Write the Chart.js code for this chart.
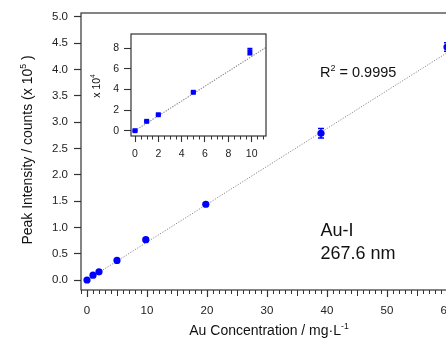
<!DOCTYPE html>
<html><head><meta charset="utf-8">
<script src="https://cdn.jsdelivr.net/npm/chart.js@4/dist/chart.umd.min.js"></script>
<style>
html,body{margin:0;padding:0;background:#fff;overflow:hidden;}
#wrap{position:relative;width:446px;height:340px;overflow:hidden;background:#fff;}
canvas{position:absolute;left:0;top:0;}
</style></head><body>
<div id="wrap"><canvas id="main" width="480" height="340"></canvas><canvas id="inset" width="480" height="340"></canvas></div>
<script>
// ---- data ----
const concentrations = [0, 1, 2, 5, 9.8, 19.8, 39, 60];          // mg/L
const intensities = [0, 0.092, 0.155, 0.373, 0.766, 1.44, 2.79, 4.43]; // x10^5 counts
const intensityErrors = [0.004, 0.004, 0.004, 0.006, 0.03, 0.025, 0.09, 0.08];
const fitX = [0, 63];
const fitY = [0, 4.536];

const insetConcentrations = [0, 1, 2, 5, 9.85];
const insetIntensities = [0, 0.91, 1.55, 3.73, 7.67];  // x10^4 counts
const insetErrors = [0.05, 0.05, 0.05, 0.08, 0.3];
const insetFitX = [0, 11.23];
const insetFitY = [0, 8.09];

const xTickValues = [0, 10, 20, 30, 40, 50, 60];
const yTickValues = [0, 0.5, 1, 1.5, 2, 2.5, 3, 3.5, 4, 4.5, 5];
const insetXTickValues = [0, 2, 4, 6, 8, 10];
const insetYTickValues = [0, 2, 4, 6, 8];

const FONT = "'Liberation Sans', Arial, Helvetica, sans-serif";
const AXIS = '#333';
const BLUE = '#0000ff';

function pts(xs, ys){ return xs.map((v,i)=>({x:v, y:ys[i]})); }

const errorBarPlugin = {
  id: 'errorBars',
  afterDatasetsDraw(chart, args, opts){
    const {ctx, scales:{x, y}} = chart;
    const ds = chart.data.datasets[opts.datasetIndex];
    ctx.save();
    ctx.strokeStyle = BLUE; ctx.lineWidth = 1.5;
    ds.data.forEach((p, i) => {
      const e = opts.errors[i];
      const px = x.getPixelForValue(p.x);
      const y1 = y.getPixelForValue(p.y - e), y2 = y.getPixelForValue(p.y + e);
      ctx.beginPath();
      ctx.moveTo(px, y1); ctx.lineTo(px, y2);
      ctx.moveTo(px - opts.cap, y1); ctx.lineTo(px + opts.cap, y1);
      ctx.moveTo(px - opts.cap, y2); ctx.lineTo(px + opts.cap, y2);
      ctx.stroke();
    });
    ctx.restore();
  }
};

function drawParts(ctx, parts, size, x, y, align){
  const widths = parts.map(([t, sup]) => { ctx.font = (sup ? size*0.62 : size) + 'px ' + FONT; return ctx.measureText(t).width; });
  const total = widths.reduce((a,b)=>a+b, 0);
  let cx = align === 'center' ? x - total/2 : x;
  parts.forEach(([t, sup], i) => {
    ctx.font = (sup ? size*0.62 : size) + 'px ' + FONT;
    ctx.fillText(t, cx, sup ? y - size*0.42 : y);
    cx += widths[i];
  });
}

const frameTicksPlugin = {
  id: 'frameTicks',
  afterDraw(chart, args, opts){
    const {ctx, chartArea:a, scales:{x}} = chart;
    ctx.save();
    ctx.strokeStyle = AXIS; ctx.lineWidth = 1.2;
    ctx.strokeRect(a.left, a.top, a.right - a.left, a.bottom - a.top);
    ctx.lineWidth = 1;
    for (let v = Math.ceil(x.min / opts.minorStep) * opts.minorStep; v <= x.max; v += opts.minorStep) {
      const r = Math.round(v / opts.minorStep);
      if (opts.majorTicks.includes(+v.toFixed(3))) continue;
      const px = Math.round(x.getPixelForValue(v)) + 0.5;
      const len = (opts.midEvery && r % opts.midEvery === 0) ? opts.midLen : opts.minorLen;
      ctx.beginPath(); ctx.moveTo(px, a.bottom); ctx.lineTo(px, a.bottom + len); ctx.stroke();
    }
    ctx.restore();
  }
};

const mainTextPlugin = {
  id: 'mainText',
  afterDraw(chart){
    const ctx = chart.ctx;
    ctx.save();
    ctx.fillStyle = '#111';
    ctx.textBaseline = 'alphabetic';
    ctx.textAlign = 'left';
    ctx.save();
    ctx.translate(31.5, 150);
    ctx.rotate(-Math.PI/2);
    drawParts(ctx, [['Peak Intensity / counts (x 10', false], ['5', true], [' )', false]], 14, 0, 0, 'center');
    ctx.restore();
    drawParts(ctx, [['Au Concentration / mg\u00B7L', false], ['-1', true]], 14, 269, 335, 'center');
    drawParts(ctx, [['R', false], ['2', true], [' = 0.9995', false]], 14.5, 320, 77, 'left');
    ctx.font = '18px ' + FONT;
    ctx.fillText('Au-I', 320.5, 236);
    ctx.fillText('267.6 nm', 320.5, 259);
    ctx.restore();
  }
};

const insetTextPlugin = {
  id: 'insetText',
  beforeDraw(chart){
    const {ctx, chartArea:a} = chart;
    ctx.save(); ctx.fillStyle = '#fff';
    ctx.fillRect(a.left, a.top, a.right - a.left, a.bottom - a.top);
    ctx.restore();
  },
  afterDraw(chart){
    const ctx = chart.ctx;
    ctx.save();
    ctx.fillStyle = '#111';
    ctx.textBaseline = 'alphabetic';
    ctx.translate(99.5, 86);
    ctx.rotate(-Math.PI/2);
    drawParts(ctx, [['x 10', false], ['4', true]], 10.5, 0, 0, 'center');
    ctx.restore();
  }
};

Chart.defaults.font.family = FONT;

new Chart(document.getElementById('main'), {
  data: {
    datasets: [
      { type: 'scatter', data: pts(concentrations, intensities), backgroundColor: BLUE, borderColor: BLUE,
        pointRadius: 3.6, pointStyle: 'circle', borderWidth: 0 },
      { type: 'line', data: pts(fitX, fitY), borderColor: '#888', borderWidth: 1, borderDash: [1.2, 1.5],
        pointRadius: 0, fill: false }
    ]
  },
  options: {
    responsive: false, animation: false, devicePixelRatio: 1,
    layout: { padding: { left: 0, top: 13, right: 15, bottom: 0 } },
    plugins: { legend: { display: false }, tooltip: { enabled: false },
      errorBars: { datasetIndex: 0, errors: intensityErrors, cap: 3 },
      frameTicks: { minorStep: 1, majorTicks: xTickValues, midEvery: 5, midLen: 6, minorLen: 4 } },
    scales: {
      x: { type: 'linear', min: -1, max: 63,
        afterBuildTicks: s => { s.ticks = xTickValues.map(v => ({ value: v })); },
        afterFit: s => { s.height = 50; },
        grid: { display: true, drawOnChartArea: false, drawTicks: true, tickLength: 7, tickColor: AXIS, tickWidth: 1.2, color: 'rgba(0,0,0,0)' },
        border: { display: false },
        ticks: { autoSkip: false, maxRotation: 0, padding: 7, color: '#222', font: { size: 11.5 } } },
      y: { type: 'linear', min: -0.19, max: 5.076,
        afterBuildTicks: s => { s.ticks = yTickValues.map(v => ({ value: v })); },
        afterFit: s => { s.width = 81; },
        grid: { display: true, drawOnChartArea: false, drawTicks: true, tickLength: 7, tickColor: AXIS, tickWidth: 1.2, color: 'rgba(0,0,0,0)' },
        border: { display: false },
        ticks: { autoSkip: false, padding: 6, color: '#222', font: { size: 11.5 }, callback: v => v.toFixed(1) } }
    }
  },
  plugins: [errorBarPlugin, frameTicksPlugin, mainTextPlugin]
});

new Chart(document.getElementById('inset'), {
  data: {
    datasets: [
      { type: 'scatter', data: pts(insetConcentrations, insetIntensities), backgroundColor: BLUE, borderColor: BLUE,
        pointRadius: 3.5, pointStyle: 'rect', borderWidth: 0 },
      { type: 'line', data: pts(insetFitX, insetFitY), borderColor: '#888', borderWidth: 1.1, borderDash: [1.3, 1.3],
        pointRadius: 0, fill: false }
    ]
  },
  options: {
    responsive: false, animation: false, devicePixelRatio: 1,
    layout: { padding: { left: 101, top: 34, right: 214, bottom: 174 } },
    plugins: { legend: { display: false }, tooltip: { enabled: false },
      errorBars: { datasetIndex: 0, errors: insetErrors, cap: 2.5 },
      frameTicks: { minorStep: 0.5, majorTicks: insetXTickValues, midEvery: 0, midLen: 4, minorLen: 3.5 } },
    scales: {
      x: { type: 'linear', min: -0.343, max: 11.23,
        afterBuildTicks: s => { s.ticks = insetXTickValues.map(v => ({ value: v })); },
        afterFit: s => { s.height = 30; },
        grid: { display: true, drawOnChartArea: false, drawTicks: true, tickLength: 6, tickColor: AXIS, tickWidth: 1.1, color: 'rgba(0,0,0,0)' },
        border: { display: false },
        ticks: { autoSkip: false, maxRotation: 0, padding: 6, color: '#222', font: { size: 10.5 } } },
      y: { type: 'linear', min: -0.515, max: 9.39,
        afterBuildTicks: s => { s.ticks = insetYTickValues.map(v => ({ value: v })); },
        afterFit: s => { s.width = 30; },
        grid: { display: true, drawOnChartArea: false, drawTicks: true, tickLength: 7, tickColor: AXIS, tickWidth: 1.1, color: 'rgba(0,0,0,0)' },
        border: { display: false },
        ticks: { autoSkip: false, padding: 5, color: '#222', font: { size: 10.5 } } }
    }
  },
  plugins: [errorBarPlugin, frameTicksPlugin, insetTextPlugin]
});
</script>
</body></html>
